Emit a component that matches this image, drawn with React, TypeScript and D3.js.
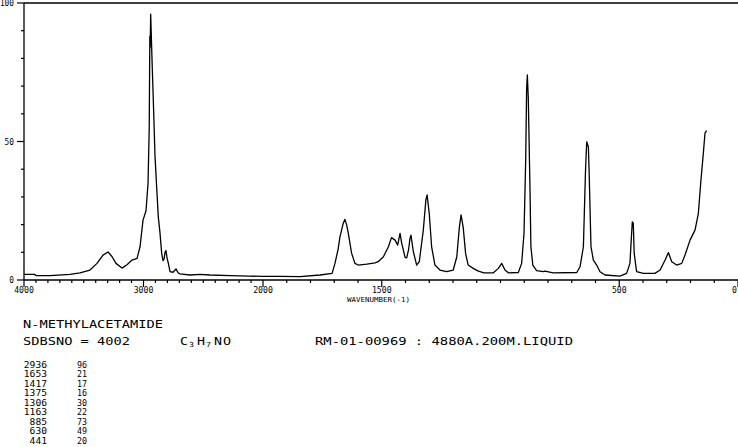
import React from "react";
import * as d3 from "d3";

const wavenumbers = [
  4000, 3910, 3900, 3782, 3615, 3531, 3448, 3389, 3339, 3297, 3264, 3230, 3180, 3138, 3096, 3054,
  3029, 3004, 2979, 2962, 2952, 2947, 2944, 2940, 2929, 2918, 2904, 2890, 2876, 2862, 2848, 2837,
  2828, 2820, 2812, 2803, 2792, 2778, 2753, 2728, 2711, 2695, 2611, 2527, 2444, 2276, 2109, 2000,
  1928, 1844, 1760, 1709, 1697, 1684, 1676, 1662, 1655, 1648, 1641, 1627, 1613, 1599, 1563, 1528,
  1515, 1493, 1472, 1459, 1444, 1433, 1423, 1416, 1402, 1395, 1387, 1381, 1377, 1367, 1353, 1342,
  1325, 1314, 1309, 1300, 1290, 1276, 1255, 1227, 1199, 1184, 1173, 1166, 1157, 1147, 1136, 1115,
  1093, 1070, 1030, 1009, 995, 981, 967, 925, 911, 901, 894, 890, 887, 883, 876, 872,
  864, 848, 820, 813, 778, 679, 665, 651, 642, 637, 630, 627, 619, 609, 595, 581,
  560, 497, 469, 455, 448, 445, 441, 437, 427, 399, 350, 328, 307, 293, 279, 258,
  237, 223, 202, 181, 167, 157, 146, 139, 132,
];
const intensities = [
  2.0, 2.0, 1.6, 1.6, 2.0, 2.6, 3.6, 6, 9, 10.1, 8.5, 6, 4.3, 5.5, 7.2, 7.8,
  12, 21.6, 25, 35, 55, 88, 84, 96, 80, 65, 45, 33.6, 22.7, 17, 9.7, 7,
  7.5, 10, 10.6, 8, 6, 3, 2.8, 4, 2.6, 2.2, 1.8, 2.0, 1.8, 1.6, 1.4, 1.3,
  1.3, 1.2, 1.8, 2.4, 6, 11, 15.6, 20.5, 21.9, 20, 16.9, 9.7, 6, 5.4, 5.7, 6.2,
  6.6, 8.4, 12, 15.3, 14.4, 12.6, 16.8, 13.3, 8.2, 8, 11, 15, 16.2, 10.2, 5.4, 6.6,
  18, 29, 30.7, 24, 12, 5.4, 3.6, 3, 3.6, 8.4, 19.2, 23.5, 19, 9.6, 5.4, 4.2,
  3.2, 2.6, 2.6, 4.2, 6, 3.6, 2.6, 2.7, 6, 16.9, 43, 69, 74, 65.6, 33.7, 12,
  5.4, 3.4, 3, 3.2, 2.6, 2.7, 4.8, 12, 39.7, 49.9, 48, 39.7, 12, 7.2, 5.4, 3,
  1.8, 1.4, 2.4, 6, 16.8, 21, 20.5, 9.6, 3, 2.4, 2.4, 3.6, 7.2, 9.9, 6.6, 5.4,
  6, 9, 14.4, 18, 24, 35, 45.7, 53, 53.9,
];

const xTickLabels = [4000, 3000, 2000, 1500, 500, 0];
const yTickLabels = [0, 50, 100];
const peakWavenumbers = ["2936", "1653", "1417", "1375", "1306", "1163", "885", "630", "441"];
const peakIntensities = ["96", "21", "17", "16", "30", "22", "73", "49", "20"];
const compoundName = "N-METHYLACETAMIDE";
const sdbsLine = "SDBSNO = 4002";
const measureLine = "RM-01-00969 : 4880A.200M.LIQUID";
const xAxisTitle = "WAVENUMBER(-1)";
const formulaParts = [
  { t: "C", sub: false },
  { t: "3", sub: true },
  { t: "H", sub: false },
  { t: "7", sub: true },
  { t: "N", sub: false },
  { t: "O", sub: false },
];

const FONT = "'DejaVu Sans Mono', 'Liberation Mono', monospace";

export default function App() {
  const x = d3.scaleLinear().domain([4000, 2000, 0]).range([24, 263, 738]);
  const y = d3.scaleLinear().domain([0, 100]).range([280, 3]);

  const pts: [number, number][] = wavenumbers.map((w, i) => [w, intensities[i]]);
  const line = d3
    .line<[number, number]>()
    .x((d) => x(d[0]))
    .y((d) => y(d[1]))
    .curve(d3.curveLinear);

  const minorX = d3.range(4000, -1, -100);
  const minorY = d3.range(0, 101, 10);

  // formula glyph positions
  let fx = 180;
  const formulaPos = formulaParts.map((p) => {
    const pos = fx;
    fx += p.sub ? 8 : 9;
    return pos;
  });

  return (
    <svg
      width={738}
      height={447}
      style={{ position: "absolute", left: 0, top: 0, background: "#fff" }}
      fontFamily={FONT}
    >
      <rect x={0} y={0} width={738} height={447} fill="#fff" />
      {/* frame */}
      <line x1={x(4000)} x2={738} y1={y(100)} y2={y(100)} stroke="#000" strokeWidth={1.3} />
      <line x1={x(4000)} x2={x(4000)} y1={y(100)} y2={y(0)} stroke="#000" strokeWidth={1.3} />
      <line x1={x(4000)} x2={738} y1={y(0)} y2={y(0)} stroke="#000" strokeWidth={1.3} />

      {/* y ticks */}
      {minorY.map((v) => {
        const major = yTickLabels.includes(v);
        return (
          <line
            key={"yt" + v}
            x1={x(4000) - (major ? 7 : 3)}
            x2={x(4000)}
            y1={y(v)}
            y2={y(v)}
            stroke="#000"
            strokeWidth={1.2}
          />
        );
      })}
      {yTickLabels.map((v) => (
        <text
          key={"yl" + v}
          x={14}
          y={y(v) + 3}
          fontSize={8}
          textAnchor="end"
          textLength={String(v).length * 4.7}
          lengthAdjust="spacingAndGlyphs"
        >
          {v}
        </text>
      ))}

      {/* x ticks */}
      {minorX.map((v) => {
        const major = xTickLabels.includes(v);
        return (
          <line
            key={"xt" + v}
            x1={x(v)}
            x2={x(v)}
            y1={y(0)}
            y2={y(0) + (major ? 7 : 3)}
            stroke="#000"
            strokeWidth={1.2}
          />
        );
      })}
      {xTickLabels.map((v) => (
        <text
          key={"xl" + v}
          x={v === 0 ? 737 : x(v)}
          y={293}
          fontSize={8}
          textAnchor={v === 0 ? "end" : "middle"}
          textLength={String(v).length * 4.9}
          lengthAdjust="spacingAndGlyphs"
        >
          {v}
        </text>
      ))}
      <text x={347} y={302} fontSize={7} textLength={63} lengthAdjust="spacingAndGlyphs">
        {xAxisTitle}
      </text>

      {/* spectrum */}
      <path d={line(pts) || ""} fill="none" stroke="#000" strokeWidth={1.3} strokeLinejoin="round" />

      {/* header text */}
      <text x={23} y={328} fontSize={11} textLength={140} lengthAdjust="spacingAndGlyphs">
        {compoundName}
      </text>
      <text x={23} y={345} fontSize={11} textLength={107} lengthAdjust="spacingAndGlyphs">
        {sdbsLine}
      </text>
      {formulaParts.map((p, i) => (
        <text
          key={"f" + i}
          x={formulaPos[i]}
          y={p.sub ? 347 : 345}
          fontSize={p.sub ? 7 : 11}
          textLength={p.sub ? 5 : 8}
          lengthAdjust="spacingAndGlyphs"
        >
          {p.t}
        </text>
      ))}
      <text x={315} y={345} fontSize={11} textLength={258} lengthAdjust="spacingAndGlyphs">
        {measureLine}
      </text>

      {/* peak list */}
      {peakWavenumbers.map((p, i) => (
        <g key={"pk" + i}>
          <text
            x={47}
            y={368 + i * 9.45}
            fontSize={8}
            textAnchor="end"
            textLength={p.length * 5.8}
            lengthAdjust="spacingAndGlyphs"
          >
            {p}
          </text>
          <text
            x={77}
            y={368 + i * 9.45}
            fontSize={8}
            textLength={peakIntensities[i].length * 5}
            lengthAdjust="spacingAndGlyphs"
          >
            {peakIntensities[i]}
          </text>
        </g>
      ))}
    </svg>
  );
}
